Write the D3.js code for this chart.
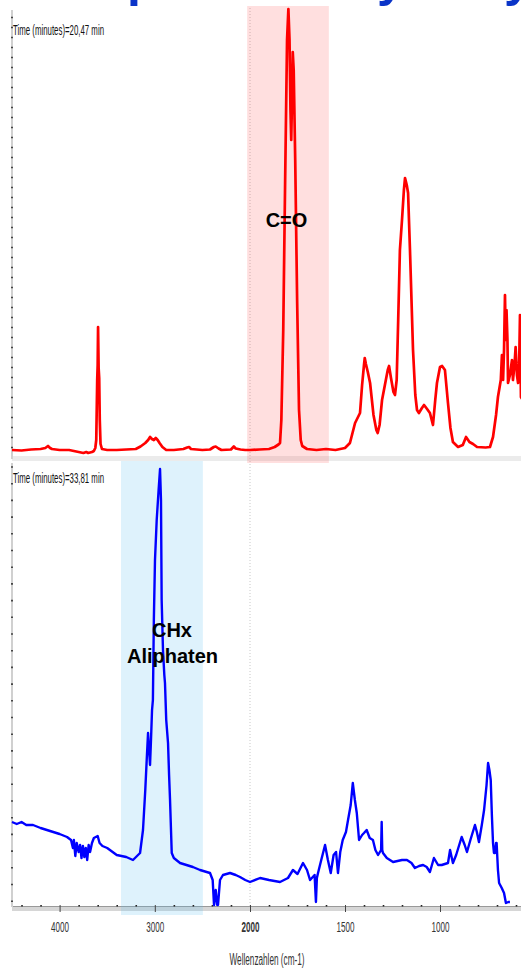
<!DOCTYPE html>
<html>
<head>
<meta charset="utf-8">
<script src="https://cdn.jsdelivr.net/npm/d3@7"></script>
<style>
  body { margin: 0; background: #fff; }
  svg { display: block; }
</style>
</head>
<body>
<script>
var W = 521, H = 970;

// spectrum at 20,47 min (red): wavenumber [cm-1] and intensity
var redWavenumbers = [4500, 4400, 4300, 4200, 4150, 4122, 4100, 4080, 4000, 3900, 3850, 3800, 3750, 3720, 3700, 3660, 3640,
  3625, 3615, 3605, 3600, 3596, 3590, 3584, 3578, 3570, 3555, 3500, 3400, 3300, 3200, 3150, 3100, 3070, 3050, 3030, 3010,
  2990, 2970, 2950, 2920, 2880, 2800, 2700, 2660, 2640, 2620, 2500, 2420, 2380, 2360, 2330, 2300, 2200, 2170, 2150, 2100,
  2050, 2000, 1950, 1900, 1870, 1850, 1842, 1835, 1825, 1815, 1805, 1798, 1792, 1787, 1783, 1779, 1775, 1770, 1762, 1752,
  1742, 1733, 1725, 1700, 1650, 1600, 1550, 1500, 1474, 1447, 1421, 1410, 1400, 1396, 1390, 1380, 1368, 1350, 1335, 1328,
  1318, 1305, 1290, 1275, 1268, 1258, 1245, 1237, 1228, 1220, 1211, 1200, 1190, 1184, 1175, 1168, 1158, 1142, 1130, 1121,
  1111, 1095, 1084, 1068, 1053, 1037, 1025, 1016, 1000, 989, 974, 958, 945, 932, 905, 880, 863, 845, 826, 805, 760, 737,
  721, 705, 695, 680, 674, 668, 663, 658, 654, 650, 645, 642, 632, 621, 616, 608, 602, 595, 589, 583, 579, 574, 565];
var redIntensity = [0.1, 0.05, 0.15, 0.2, 0.3, 0.5, 0.3, 0.2, 0.1, 0.1, 0.0, -0.1, -0.2, -0.1, -0.2, -0.1, 0,
  0.3, 1.1, 7.1, 8.6, 12.4, 8.3, 7.3, 3.1, 0.7, 0.2, 0.1, 0.1, 0.15, 0.2, 0.45, 0.8, 1.1, 1.4, 1.2, 1.1,
  1.3, 1.1, 0.8, 0.4, 0.1, 0.1, 0.2, 0.35, 0.4, 0.2, 0.1, 0.15, 0.4, 0.45, 0.25, 0.1, 0.15, 0.45, 0.25, 0.15,
  0.1, 0.1, 0.15, 0.2, 0.4, 0.65, 0.8, 3.1, 12.1, 27.1, 41.1, 44.2, 41.1, 34.1, 31.1, 35.1, 39.9, 38.1, 29.1, 15.1,
  4.1, 1.1, 0.5, 0.2, 0.1, 0.2, 0.1, 0.3, 0.8, 2.8, 3.8, 6.6, 8.6, 9.3, 8.7, 7.9, 6.8, 3.6, 2.1, 1.8,
  2.6, 5.1, 6.6, 8.1, 8.5, 7.3, 5.9, 5.6, 7.1, 13.1, 20.1, 23.1, 26.1, 27.3, 26.6, 25.8, 20.1, 10.1, 5.6, 4.1,
  3.8, 4.3, 4.6, 4.2, 3.8, 2.6, 5.1, 6.8, 8.4, 8.5, 8.1, 4.8, 2.3, 0.9, 0.4, 0.6, 1.4, 0.9, 0.7, 0.4, 0.35, 0.4,
  1.4, 3.6, 5.4, 7.1, 9.6, 7.1, 10.1, 15.6, 11.1, 14.1, 11.1, 6.8, 7.6, 9.1, 7.1, 8.6, 10.4, 7.6, 6.8, 9.1, 13.6, 5.4, 5.1];

// spectrum at 33,81 min (blue)
var blueWavenumbers = [4500, 4450, 4400, 4350, 4279, 4200, 4100, 4000, 3922, 3880, 3860, 3850, 3835, 3820, 3800, 3785,
  3770, 3755, 3740, 3725, 3710, 3695, 3680, 3660, 3640, 3600, 3580, 3550, 3500, 3400, 3300, 3229, 3155, 3124, 3100, 3085,
  3071, 3060, 3050, 3040, 3029, 3020, 3010, 2998, 2980, 2960, 2945, 2935, 2928, 2914, 2900, 2893, 2880, 2861, 2850, 2840,
  2822, 2800, 2735, 2600, 2525, 2420, 2392, 2378, 2360, 2345, 2336, 2315, 2284, 2210, 2150, 2105, 2050, 2000, 1947, 1900,
  1842, 1800, 1774, 1750, 1721, 1700, 1684, 1660, 1653, 1648, 1642, 1625, 1605, 1590, 1575, 1560, 1547, 1537, 1525, 1512,
  1495, 1484, 1470, 1459, 1448, 1438, 1426, 1410, 1400, 1386, 1370, 1353, 1340, 1326, 1310, 1307, 1304, 1300, 1280, 1247,
  1200, 1174, 1150, 1132, 1110, 1089, 1070, 1053, 1032, 1010, 991, 958, 947, 932, 915, 886, 870, 858, 840, 816, 806, 795,
  780, 768, 755, 747, 740, 733, 727, 721, 716, 711, 705, 702, 695, 689, 675, 663, 653, 640, 632];
var blueIntensity = [8.4, 8.2, 8.4, 8.1, 8.1, 7.8, 7.5, 7.2, 6.9, 6.6, 5.8, 6.6, 5.0, 6.3, 5.4, 6.1,
  4.8, 6.0, 4.9, 5.8, 4.6, 6.1, 5.4, 6.3, 6.8, 7.0, 6.3, 6.0, 5.8, 5.1, 4.9, 4.6, 5.3, 7.6, 11.6, 14.6,
  17.3, 15.6, 14.1, 16.6, 19.6, 20.6, 28.6, 34.6, 38.6, 41.6, 43.7, 40.6, 30.6, 25.6, 23.1, 22.3, 18.6, 16.3, 13.1, 10.6,
  5.3, 4.8, 4.3, 3.9, 3.6, 3.3, 2.6, 0.1, 1.6, 0.1, 0.1, 2.6, 3.1, 3.3, 3.1, 2.9, 2.6, 2.4, 2.8, 2.6,
  2.4, 2.8, 3.6, 3.2, 4.3, 3.6, 2.6, 3.1, 0.4, 2.8, 3.3, 4.6, 6.1, 4.6, 3.3, 5.1, 5.4, 3.3, 5.4, 6.6,
  7.4, 8.6, 10.1, 12.3, 10.6, 9.3, 6.6, 7.1, 7.3, 7.6, 6.8, 6.6, 5.6, 5.1, 5.6, 8.4, 5.6, 5.3, 4.8, 4.4,
  4.6, 4.6, 4.3, 3.8, 4.0, 4.1, 3.9, 3.4, 4.8, 4.1, 4.1, 4.3, 5.6, 4.3, 5.1, 6.9, 6.1, 5.4, 6.6, 8.1, 7.4, 6.4,
  8.1, 9.6, 12.1, 14.3, 13.6, 12.6, 9.1, 6.3, 5.3, 5.3, 6.3, 6.3, 3.6, 2.3, 1.8, 1.3, 0.3, 0.4, 0.4];

// axis ticks and labels
var majorTicks = [4000, 3000, 2000, 1500, 1000];
var minorTicks = [4400, 4200, 3800, 3600, 3400, 3200, 2800, 2600, 2400, 2200,
  1900, 1800, 1700, 1600, 1400, 1300, 1200, 1100, 900, 800, 700, 600];
var timeLabels = ["Time (minutes)=20,47 min", "Time (minutes)=33,81 min"];
var xTitle = "Wellenzahlen (cm-1)";
var bandCO = [2030, 1585], bandCH = [3355, 2495];

var svg = d3.select("body").append("svg")
  .attr("width", W).attr("height", H);

// x axis has a 2x expansion below 2000 cm-1
var x = d3.scaleLinear().domain([4500, 2000, 550]).range([12, 250, 525.5]);
var yTop = d3.scaleLinear().domain([0, 44.2]).range([451, 9]);
var yBot = d3.scaleLinear().domain([0, 44]).range([906, 466]);

// slide title, cut off at the top
var title = svg.append("g")
  .style("font", "bold 50px 'Liberation Sans', Arial, sans-serif")
  .attr("fill", "#0a34c8");
title.append("text").attr("x", 127).attr("y", -4).text("p");
title.append("text").attr("x", 377).attr("y", -4).text("y");
title.append("text").attr("x", 504).attr("y", -4).text("y");

// axis bands
svg.append("rect").attr("x", 12).attr("y", 456).attr("width", W).attr("height", 5).attr("fill", "#ebebeb");
svg.append("rect").attr("x", 12).attr("y", 906).attr("width", W).attr("height", 5).attr("fill", "#d6d6d6");
svg.append("line").attr("x1", 12).attr("x2", W).attr("y1", 906.5).attr("y2", 906.5).attr("stroke", "#999");

// break marker at 2000
svg.append("line")
  .attr("x1", x(2000)).attr("x2", x(2000)).attr("y1", 8).attr("y2", 906)
  .attr("stroke", "#c8c8c8").attr("stroke-dasharray", "1,2");

// left axes
function leftAxis(scale, vals, y0, y1) {
  var g = svg.append("g").attr("transform", "translate(12,0)");
  g.append("line").attr("x1", 0).attr("x2", 0).attr("y1", y0).attr("y2", y1)
    .attr("stroke", "#d0d0d0").attr("stroke-width", 2);
  g.append("g").call(d3.axisLeft(scale).tickValues(vals).tickSize(1).tickFormat(""))
    .call(function (a) { a.select(".domain").remove(); })
    .selectAll("line").attr("stroke", "#222").attr("stroke-width", 1.6)
    .attr("x1", -0.8).attr("x2", 0.8);
}
leftAxis(yTop, d3.range(0.4, 44, 1), 10, 459);
leftAxis(yBot, d3.range(0.53, 44, 1.67), 463, 907);

// highlight bands
svg.append("rect")
  .attr("x", x(bandCO[0])).attr("width", x(bandCO[1]) - x(bandCO[0]))
  .attr("y", 6).attr("height", 457)
  .attr("fill", "rgb(255,68,68)").attr("fill-opacity", 0.17);
svg.append("rect")
  .attr("x", x(bandCH[0])).attr("width", x(bandCH[1]) - x(bandCH[0]))
  .attr("y", 461).attr("height", 454)
  .attr("fill", "rgb(90,190,240)").attr("fill-opacity", 0.2);

// bottom axis ticks
var bx = svg.append("g").attr("transform", "translate(0,905)");
bx.call(d3.axisBottom(x).tickValues(minorTicks).tickSize(1.5).tickFormat(""))
  .call(function (a) { a.select(".domain").remove(); })
  .selectAll("line").attr("stroke", "#222").attr("stroke-width", 1.6);
var bm = svg.append("g").attr("transform", "translate(0,905)");
bm.call(d3.axisBottom(x).tickValues(majorTicks).tickSize(7).tickFormat(d3.format("d")))
  .call(function (a) { a.select(".domain").remove(); });
bm.selectAll("line").attr("stroke", "#444");
bm.selectAll("text")
  .attr("y", 27).attr("dy", 0)
  .attr("fill", "#333")
  .style("font", "15px 'Liberation Sans', Arial, sans-serif")
  .style("font-weight", function (d) { return d === 2000 ? "bold" : "normal"; })
  .attr("textLength", 18).attr("lengthAdjust", "spacingAndGlyphs");

svg.append("text")
  .attr("x", 267).attr("y", 965).attr("text-anchor", "middle")
  .attr("fill", "#333")
  .style("font", "16px 'Liberation Sans', Arial, sans-serif")
  .attr("textLength", 75).attr("lengthAdjust", "spacingAndGlyphs")
  .text(xTitle);

// time labels
[35, 483].forEach(function (y, i) {
  svg.append("text")
    .attr("x", 13).attr("y", y)
    .attr("fill", "#111")
    .style("font", "14px 'Liberation Sans', Arial, sans-serif")
    .attr("textLength", 91).attr("lengthAdjust", "spacingAndGlyphs")
    .text(timeLabels[i]);
});

// spectra
var red = redWavenumbers.map(function (w, i) { return [w, redIntensity[i]]; });
var blue = blueWavenumbers.map(function (w, i) { return [w, blueIntensity[i]]; });

svg.append("path")
  .attr("d", d3.line().x(function (d) { return x(d[0]); }).y(function (d) { return yTop(d[1]); })(red))
  .attr("fill", "none").attr("stroke", "#ff0000").attr("stroke-width", 2.7)
  .attr("stroke-linejoin", "round");
svg.append("path")
  .attr("d", d3.line().x(function (d) { return x(d[0]); }).y(function (d) { return yBot(d[1]); })(blue))
  .attr("fill", "none").attr("stroke", "#0000ff").attr("stroke-width", 2.4)
  .attr("stroke-linejoin", "round");

// band labels
var lab = svg.append("g")
  .style("font", "bold 20px 'Liberation Sans', Arial, sans-serif")
  .attr("fill", "#000").attr("text-anchor", "middle");
lab.append("text").attr("x", 286.5).attr("y", 227).text("C=O");
lab.append("text").attr("x", 172).attr("y", 637).text("CHx");
lab.append("text").attr("x", 172.5).attr("y", 663).text("Aliphaten");
</script>
</body>
</html>
